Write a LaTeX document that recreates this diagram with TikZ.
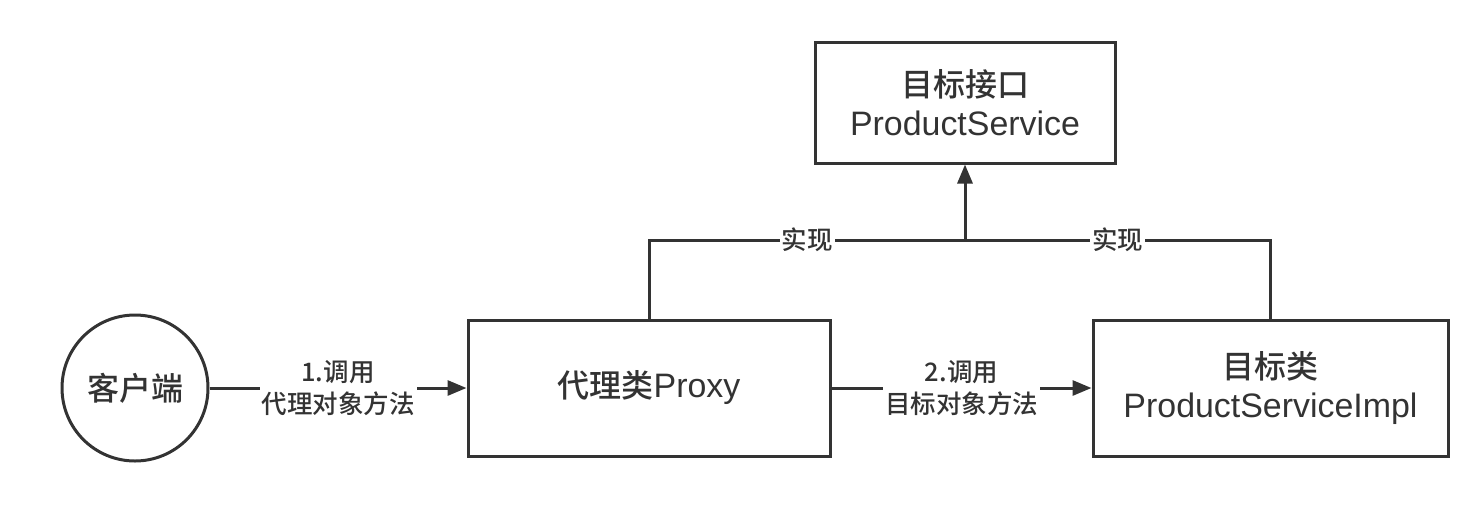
\documentclass[tikz,border=0pt]{standalone}
\usepackage{fontspec}
\setmainfont{Noto Sans CJK SC}[UprightFont=* Medium]
\newfontfamily\lat{Liberation Sans}[Scale=1.06]
\usetikzlibrary{arrows.meta}

\begin{document}
\begin{tikzpicture}[x=1pt,y=-1pt,line width=3pt,color={black!80},
  box/.style={draw,rectangle,inner sep=0pt,font=\fontsize{32}{39}\selectfont,align=center},
  lbl/.style={fill=white,inner sep=2pt,font=\fontsize{25.5}{32}\selectfont,align=center},
  arr/.style={-{Triangle[length=19pt,width=15pt]}}]
\useasboundingbox (0,0) rectangle (1482,504);

\node[draw,circle,minimum size=146pt,inner sep=0pt,font=\fontsize{32}{39}\selectfont] (client) at (135,388) {客户端};
\node[box,minimum width=362pt,minimum height=136pt] (proxy) at (649,388) {代理类{\lat Proxy}};
\node[box,minimum width=355pt,minimum height=136pt] (impl) at (1270.5,388) {目标类\\{\lat ProductServiceImpl}};
\node[box,minimum width=300pt,minimum height=121pt] (iface) at (965,102.5) {目标接口\\{\lat ProductService}};
\coordinate (join) at (965,240);

\draw[arr] (client) -- node[lbl] {1.调用\\代理对象方法} (proxy);
\draw[arr] (proxy) -- node[lbl] {2.调用\\目标对象方法} (impl);
\draw (proxy.north) |- node[pos=.75,lbl] {实现} (join);
\draw (impl.north) |- node[pos=.75,lbl] {实现} (join);
\draw[arr] (join) -- (iface);
\end{tikzpicture}
\end{document}
